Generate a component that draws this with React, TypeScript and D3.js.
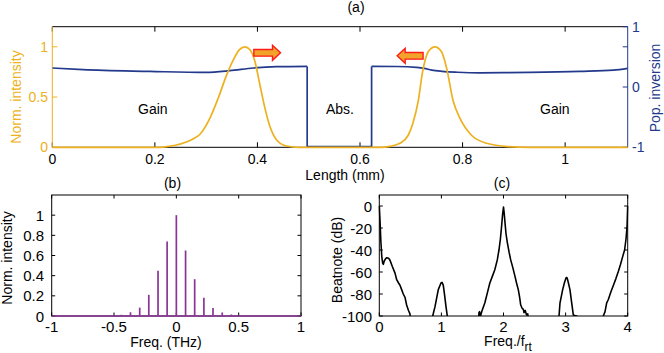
import React from "react";
import * as d3 from "d3";

// ---------- Data ----------
// Panel (a): normalized intensity along cavity (mm, a.u.)
const intensity: [number, number][] = [
  [0, 0], [0.2, 0], [0.22, 0.005], [0.24, 0.02], [0.26, 0.05], [0.275, 0.085], [0.288, 0.13],
  [0.3074, 0.29], [0.3236, 0.49], [0.34, 0.72], [0.353, 0.87], [0.3645, 0.97], [0.3756, 1.0],
  [0.3854, 0.97], [0.3951, 0.854], [0.4049, 0.62], [0.4146, 0.39], [0.4244, 0.206],
  [0.4374, 0.073], [0.457, 0.013], [0.48, 0.0], [0.64, 0.0], [0.6583, 0.01], [0.6778, 0.04],
  [0.694, 0.12], [0.7037, 0.25], [0.7135, 0.46], [0.722, 0.75], [0.733, 0.95], [0.746, 1.0],
  [0.759, 0.95], [0.7688, 0.79], [0.7817, 0.46], [0.7947, 0.29], [0.8175, 0.12],
  [0.8468, 0.04], [0.889, 0.007], [0.93, 0], [1.122, 0],
];
// Population inversion: gain section 1, absorber, gain section 2
const inversionGain1: [number, number][] = [
  [0, 0.315], [0.06, 0.287], [0.19, 0.259], [0.3, 0.242], [0.346, 0.27], [0.392, 0.315],
  [0.437, 0.337], [0.497, 0.342],
];
const inversionAbs: [number, number][] = [
  [0.497, 0.342], [0.497, -0.99], [0.6226, -0.99], [0.6226, 0.342],
];
const inversionGain2: [number, number][] = [
  [0.6226, 0.342], [0.671, 0.34], [0.71, 0.325], [0.725, 0.31], [0.74, 0.28], [0.76, 0.26],
  [0.79, 0.245], [0.834, 0.235], [0.888, 0.238], [0.931, 0.242], [1.029, 0.259],
  [1.094, 0.28], [1.122, 0.31],
];
const lengthTicks = [0, 0.2, 0.4, 0.6, 0.8, 1];
const intensityTicks = [0, 0.5, 1];
const inversionTicks = [-1, 0, 1];
const arrowsA = [
  { from: 0.393, to: 0.445, y: 0.94 },
  { from: 0.723, to: 0.6725, y: 0.91 },
];
const regionLabels = [
  { text: "Gain", x: 0.196, y: 0.33 },
  { text: "Abs.", x: 0.561, y: 0.33 },
  { text: "Gain", x: 0.98, y: 0.33 },
];

// Panel (b): optical spectrum comb lines
const combFreq = [-0.441, -0.368, -0.294, -0.221, -0.147, -0.074, 0, 0.074, 0.147, 0.221, 0.294, 0.368, 0.441];
const combHeight = [0.012, 0.037, 0.083, 0.21, 0.45, 0.74, 1.0, 0.65, 0.365, 0.18, 0.08, 0.035, 0.015];
const freqTicks = [-1, -0.5, 0, 0.5, 1];
const normTicks = [0, 0.2, 0.4, 0.6, 0.8, 1];

// Panel (c): beatnote spectrum (f/f_rt, dB)
const beatnote: [number, number][] = [
  [0, 0], [0.012, -14], [0.025, -32], [0.04, -46], [0.054, -52], [0.065, -53], [0.08, -50],
  [0.1, -48], [0.12, -47], [0.15, -47.5], [0.17, -49], [0.21, -55], [0.253, -61], [0.28, -67],
  [0.31, -70], [0.333, -72], [0.36, -76], [0.386, -80], [0.414, -83], [0.44, -90], [0.47, -95],
  [0.494, -98], [0.51, -110],
  [0.85, -110], [0.86, -100], [0.897, -91.5], [0.95, -76], [0.993, -70], [1.01, -69.5],
  [1.03, -72], [1.047, -79], [1.074, -91.5], [1.095, -100], [1.1, -110],
  [1.59, -110], [1.605, -97], [1.615, -96], [1.63, -100], [1.65, -96], [1.7, -88], [1.74, -79],
  [1.78, -70], [1.82, -64], [1.86, -58], [1.9, -49], [1.927, -40], [1.95, -30], [1.97, -18],
  [1.985, -8], [2.0, -1], [2.012, -7], [2.024, -15], [2.04, -25], [2.061, -33], [2.09, -42],
  [2.116, -49], [2.15, -56], [2.185, -64], [2.21, -70], [2.238, -76], [2.26, -83], [2.277, -90],
  [2.3, -93], [2.32, -94], [2.33, -97], [2.35, -95], [2.37, -99], [2.39, -98], [2.42, -110],
  [2.88, -110], [2.894, -100], [2.91, -88], [2.953, -76], [2.98, -70], [3.006, -65.5],
  [3.02, -65], [3.033, -67], [3.07, -76], [3.098, -88], [3.124, -99], [3.15, -99.5],
  [3.18, -100], [3.2, -110],
  [3.6, -110], [3.607, -100], [3.635, -96], [3.662, -88], [3.688, -85], [3.73, -78],
  [3.77, -72], [3.81, -66], [3.849, -59.5], [3.885, -53], [3.919, -46], [3.95, -40],
  [3.973, -30], [3.99, -18], [4.0, 0],
];
const beatTicksX = [0, 1, 2, 3, 4];
const beatTicksY = [0, -20, -40, -60, -80, -100];

// ---------- Styles ----------
const FONT = "'Liberation Sans', Arial, Helvetica, sans-serif";
const ORANGE = "#EDB120";
const BLUE = "#22398C";
const PURPLE = "#8A3596";

function Arrow({ x0, x1, y }: { x0: number; x1: number; y: number }) {
  const dir = x1 > x0 ? 1 : -1;
  const head = 8 * dir;
  const sh = 3.3;
  const hh = 7.5;
  const xb = x1 - head;
  const d = `M${x0},${y - sh}L${xb},${y - sh}L${xb},${y - hh}L${x1},${y}L${xb},${y + hh}L${xb},${y + sh}L${x0},${y + sh}Z`;
  return <path d={d} fill="#F2A42A" stroke="#FF1A1A" strokeWidth={1.4} strokeLinejoin="miter" />;
}

export default function App() {
  // Panel (a)
  const ax = d3.scaleLinear().domain([0, 1.122]).range([52.3, 627.7]);
  const ayL = d3.scaleLinear().domain([0, 1.2]).range([147.3, 26.7]);
  const ayR = d3.scaleLinear().domain([-1, 1]).range([147.3, 26.7]);
  const lineI = d3.line<[number, number]>().x((d) => ax(d[0])).y((d) => ayL(d[1])).curve(d3.curveMonotoneX);
  const lineP = d3.line<[number, number]>().x((d) => ax(d[0])).y((d) => ayR(d[1])).curve(d3.curveMonotoneX);
  const lineP0 = d3.line<[number, number]>().x((d) => ax(d[0])).y((d) => ayR(d[1]));

  // Panel (b)
  const bx = d3.scaleLinear().domain([-1, 1]).range([51.7, 301]);
  const by = d3.scaleLinear().domain([0, 1.2]).range([316, 195]);

  // Panel (c)
  const cx = d3.scaleLinear().domain([0, 4]).range([379.3, 627.7]);
  const cy = d3.scaleLinear().domain([-100, 10]).range([316, 195]);
  const lineB = d3.line<[number, number]>().x((d) => cx(d[0])).y((d) => cy(d[1]));

  const fs = 14;
  const ft = 15;
  const aT = 5;
  const sT = 3.5;

  return (
    <svg
      width={664}
      height={353}
      style={{ position: "absolute", left: 0, top: 0, background: "#fff" }}
      fontFamily={FONT}
    >
      <defs>
        <clipPath id="clipA">
          <rect x={ax.range()[0]} y={26.7} width={ax.range()[1] - ax.range()[0]} height={120.6} />
        </clipPath>
        <clipPath id="clipC">
          <rect x={cx.range()[0] - 1} y={195} width={cx.range()[1] - cx.range()[0] + 2} height={121} />
        </clipPath>
      </defs>

      {/* ===== Panel (a) ===== */}
      <text x={356} y={12} fontSize={fs} textAnchor="middle">(a)</text>
      <line x1={ax(0)} x2={ax(1.122)} y1={26.7} y2={26.7} stroke="#000" strokeWidth={1} />
      <line x1={ax(0)} x2={ax(1.122)} y1={147.3} y2={147.3} stroke="#000" strokeWidth={1} />
      {lengthTicks.map((t) => (
        <g key={"lt" + t}>
          <line x1={ax(t)} x2={ax(t)} y1={147.3} y2={147.3 - aT} stroke="#000" />
          <line x1={ax(t)} x2={ax(t)} y1={26.7} y2={26.7 + aT} stroke="#000" />
          <text x={ax(t)} y={164} fontSize={fs} textAnchor="middle">{t}</text>
        </g>
      ))}
      <line x1={ax(0)} x2={ax(0)} y1={26.7} y2={147.3} stroke={ORANGE} strokeWidth={1} />
      {intensityTicks.map((t) => (
        <g key={"it" + t}>
          <line x1={ax(0)} x2={ax(0) + aT} y1={ayL(t)} y2={ayL(t)} stroke={ORANGE} />
          <text x={48} y={ayL(t)} fontSize={fs} textAnchor="end" dominantBaseline="central" fill={ORANGE}>{t}</text>
        </g>
      ))}
      <line x1={ax(1.122)} x2={ax(1.122)} y1={26.7} y2={147.3} stroke={BLUE} strokeWidth={1} />
      {inversionTicks.map((t) => (
        <g key={"pt" + t}>
          <line x1={ax(1.122)} x2={ax(1.122) - aT} y1={ayR(t)} y2={ayR(t)} stroke={BLUE} />
          <text x={632} y={ayR(t)} fontSize={fs} textAnchor="start" dominantBaseline="central" fill={BLUE}>{t}</text>
        </g>
      ))}
      <line x1={ax(1.122)} x2={ax(1.122) - aT} y1={ayL(1)} y2={ayL(1)} stroke={BLUE} />
      <text transform={`translate(16,97) rotate(-90)`} fontSize={fs} textAnchor="middle" dominantBaseline="central" fill={ORANGE}>Norm. intensity</text>
      <text transform={`translate(655,88) rotate(-90)`} fontSize={fs} textAnchor="middle" dominantBaseline="central" fill={BLUE}>Pop. inversion</text>
      <text x={345} y={180} fontSize={fs} textAnchor="middle">Length (mm)</text>

      <g clipPath="url(#clipA)">
        <path d={lineP(inversionGain1) || ""} fill="none" stroke={BLUE} strokeWidth={1.7} />
        <path d={lineP0(inversionAbs) || ""} fill="none" stroke={BLUE} strokeWidth={1.7} />
        <path d={lineP(inversionGain2) || ""} fill="none" stroke={BLUE} strokeWidth={1.7} />
      </g>
      <path d={lineI(intensity) || ""} fill="none" stroke={ORANGE} strokeWidth={1.7} />
      {regionLabels.map((r, i) => (
        <text key={"rl" + i} x={ax(r.x)} y={ayL(r.y)} fontSize={fs} textAnchor="middle">{r.text}</text>
      ))}
      {arrowsA.map((a, i) => (
        <Arrow key={"ar" + i} x0={ax(a.from)} x1={ax(a.to)} y={ayL(a.y)} />
      ))}

      {/* ===== Panel (b) ===== */}
      <text x={172.5} y={188} fontSize={fs} textAnchor="middle">(b)</text>
      <rect x={51.7} y={195} width={301 - 51.7} height={121} fill="none" stroke="#000" strokeWidth={1} />
      {freqTicks.map((t) => (
        <g key={"ft" + t}>
          <line x1={bx(t)} x2={bx(t)} y1={316} y2={316 - sT} stroke="#000" />
          <line x1={bx(t)} x2={bx(t)} y1={195} y2={195 + sT} stroke="#000" />
          <text x={bx(t)} y={331.5} fontSize={ft} textAnchor="middle">{t}</text>
        </g>
      ))}
      {normTicks.map((t) => (
        <g key={"nt" + t}>
          <line x1={51.7} x2={51.7 + sT} y1={by(t)} y2={by(t)} stroke="#000" />
          <line x1={301} x2={301 - sT} y1={by(t)} y2={by(t)} stroke="#000" />
          <text x={44} y={by(t)} fontSize={ft} textAnchor="end" dominantBaseline="central">{t}</text>
        </g>
      ))}
      <text transform={`translate(7,258) rotate(-90)`} fontSize={fs} textAnchor="middle" dominantBaseline="central">Norm. intensity</text>
      <text x={166} y={347} fontSize={fs} textAnchor="middle">Freq. (THz)</text>
      <line x1={bx(-1)} x2={bx(1)} y1={by(0)} y2={by(0)} stroke={PURPLE} strokeWidth={1.6} />
      {combFreq.map((f, i) => (
        <line key={"cb" + i} x1={bx(f)} x2={bx(f)} y1={by(0)} y2={by(combHeight[i])} stroke={PURPLE} strokeWidth={1.7} />
      ))}

      {/* ===== Panel (c) ===== */}
      <text x={502} y={188} fontSize={fs} textAnchor="middle">(c)</text>
      <rect x={379.3} y={195} width={627.7 - 379.3} height={121} fill="none" stroke="#000" strokeWidth={1} />
      {beatTicksX.map((t) => (
        <g key={"bx" + t}>
          <line x1={cx(t)} x2={cx(t)} y1={316} y2={316 - sT} stroke="#000" />
          <line x1={cx(t)} x2={cx(t)} y1={195} y2={195 + sT} stroke="#000" />
          <text x={cx(t)} y={331.5} fontSize={ft} textAnchor="middle">{t}</text>
        </g>
      ))}
      {beatTicksY.map((t) => (
        <g key={"by" + t}>
          <line x1={379.3} x2={379.3 + sT} y1={cy(t)} y2={cy(t)} stroke="#000" />
          <line x1={627.7} x2={627.7 - sT} y1={cy(t)} y2={cy(t)} stroke="#000" />
          <text x={372} y={cy(t)} fontSize={ft} textAnchor="end" dominantBaseline="central">{t}</text>
        </g>
      ))}
      <text transform={`translate(337,260) rotate(-90)`} fontSize={fs} textAnchor="middle" dominantBaseline="central">Beatnote (dB)</text>
      <text x={508} y={346} fontSize={fs} textAnchor="middle">
        Freq./f<tspan fontSize={12} dy={5}>rt</tspan>
      </text>
      <g clipPath="url(#clipC)">
        <path d={lineB(beatnote) || ""} fill="none" stroke="#000" strokeWidth={1.6} strokeLinejoin="round" />
      </g>
    </svg>
  );
}
